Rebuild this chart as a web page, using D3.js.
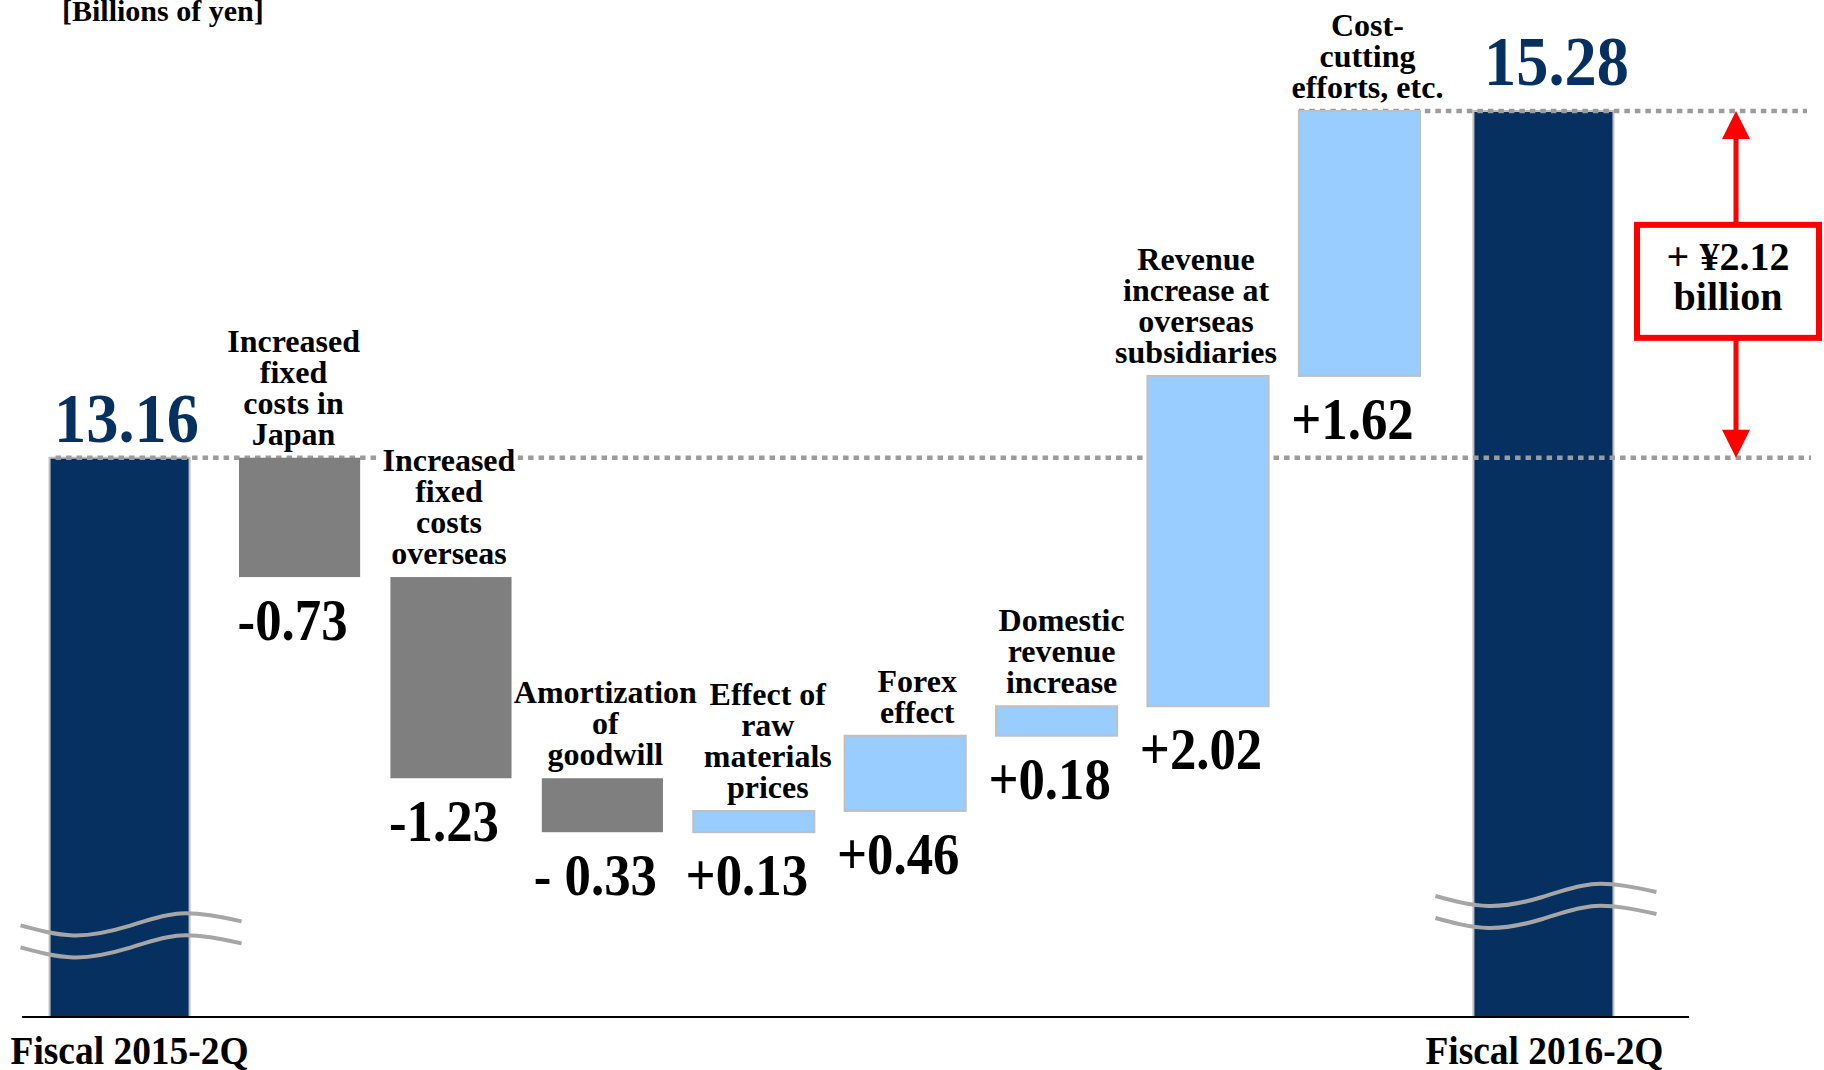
<!DOCTYPE html>
<html>
<head>
<meta charset="utf-8">
<script src="https://cdn.jsdelivr.net/npm/d3@7"></script>
<style>
  html, body { margin: 0; padding: 0; background: #ffffff; }
  svg { display: block; font-family: "Liberation Serif", "Times New Roman", serif; font-weight: bold; }
</style>
</head>
<body>
<svg id="chart" width="1824" height="1070"></svg>
<script>
// Operating income bridge: fiscal 2015-2Q to fiscal 2016-2Q, billions of yen
const totalNames = ["Fiscal 2015-2Q", "Fiscal 2016-2Q"];
const totalValues = [13.16, 15.28];
const totalLabels = ["13.16", "15.28"];

const stepNames = [
  "Increased\nfixed\ncosts in\nJapan",
  "Increased\nfixed\ncosts\noverseas",
  "Amortization\nof\ngoodwill",
  "Effect of\nraw\nmaterials\nprices",
  "Forex\neffect",
  "Domestic\nrevenue\nincrease",
  "Revenue\nincrease at\noverseas\nsubsidiaries",
  "Cost-\ncutting\nefforts, etc."
];
const stepValues = [-0.73, -1.23, -0.33, 0.13, 0.46, 0.18, 2.02, 1.62];
const stepLabels = ["-0.73", "-1.23", "- 0.33", "+0.13", "+0.46", "+0.18", "+2.02", "+1.62"];

const unitLabel = "[Billions of yen]";
const changeLabel = ["+ \u00A52.12", "billion"];

// the value axis is broken: total bars are cut off at this level
const axisFloor = 9.74;
// where the wavy break marks cross each total bar
const breakLevels = [10.3, 10.48];

// ---- layout ----
const baseY = 1017;
const navy = "#06305f", grey = "#7f7f7f", sky = "#99ccff", edge = "#c0c0c0",
      dotted = "#9c9c9c", red = "#ff0000";

const svg = d3.select("#chart");

const y = d3.scaleLinear().domain([axisFloor, totalValues[1]]).range([baseY, 111]);
const x = d3.scaleBand().domain(stepNames).range([239, 1420]).paddingInner(0.2).paddingOuter(0);
const bw = x.bandwidth();
const totalW = 140;
const totalGap = [180, 184];        // distance from the outer step bars to the total bars
const totalLabelLift = [16, 26];    // value label baseline above each total bar
const totalLabelShift = [7, 13];
const totalNameShift = [10, 1];
const waveShift = [6, -3];
const catShift = [-6, -2, 3, 14, 12, 5, -12, 8];   // horizontal nudge of each category label

// running waterfall
let run = totalValues[0];
const steps = stepValues.map((v, i) => {
  const start = run;
  run = Math.round((run + v) * 100) / 100;
  return { i, name: stepNames[i], value: v, start, end: run, label: stepLabels[i] };
});

const totals = totalValues.map((v, i) => ({
  i, name: totalNames[i], value: v, label: totalLabels[i],
  cx: i === 0 ? x(stepNames[0]) + bw / 2 - totalGap[0]
              : x(stepNames[stepNames.length - 1]) + bw / 2 + totalGap[1]
}));

// ---- total bars ----
svg.append("g").selectAll("rect").data(totals).join("rect")
  .attr("x", d => d.cx - totalW / 2)
  .attr("y", d => y(d.value))
  .attr("width", totalW)
  .attr("height", d => baseY - y(d.value))
  .attr("fill", navy)
  .attr("stroke", edge)
  .attr("stroke-width", 2);

// ---- dotted reference levels ----
const refG = svg.append("g")
  .attr("stroke", dotted).attr("stroke-width", 4.5).attr("stroke-dasharray", "5.5,5");
refG.append("line")
  .attr("x1", totals[0].cx - totalW / 2 + 6).attr("x2", 1811)
  .attr("y1", y(totalValues[0])).attr("y2", y(totalValues[0]));
refG.append("line")
  .attr("x1", x(stepNames[stepNames.length - 1])).attr("x2", 1807)
  .attr("y1", y(totalValues[1])).attr("y2", y(totalValues[1]));

// ---- step category labels: white backing, then bars, then text ----
const lineH = 31;
const bgG = svg.append("g");
const barG = svg.append("g");
const catG = svg.append("g");

const labelGroups = catG.selectAll("g").data(steps).join("g")
  .attr("transform", d => {
    const lines = d.name.split("\n").length;
    const lastBase = y(Math.max(d.start, d.end)) - 13;
    return `translate(${x(d.name) + bw / 2 + catShift[d.i]},${lastBase - (lines - 1) * lineH})`;
  });
labelGroups.each(function (d) {
  const g = d3.select(this);
  const t = g.append("text")
    .attr("text-anchor", "middle")
    .attr("font-size", 32)
    .attr("fill", "#000");
  d.name.split("\n").forEach((ln, k) => {
    t.append("tspan").attr("x", 0).attr("y", k * lineH).text(ln);
  });
  const bb = t.node().getBBox();
  bgG.append("rect")
    .attr("transform", g.attr("transform"))
    .attr("x", bb.x - 2).attr("y", bb.y + 5)
    .attr("width", bb.width + 4).attr("height", bb.height - 8)
    .attr("fill", "#fff");
});

barG.selectAll("rect").data(steps).join("rect")
  .attr("x", d => x(d.name))
  .attr("y", d => y(Math.max(d.start, d.end)))
  .attr("width", bw)
  .attr("height", d => Math.abs(y(d.start) - y(d.end)))
  .attr("fill", d => d.value < 0 ? grey : sky)
  .attr("stroke", d => d.value < 0 ? "none" : edge)
  .attr("stroke-width", 2);

// ---- step value labels below each bar ----
svg.append("g").selectAll("text").data(steps).join("text")
  .attr("transform", d => `translate(${x(d.name) + bw / 2 - 7},${y(Math.min(d.start, d.end)) + 63}) scale(0.88,1)`)
  .attr("text-anchor", "middle")
  .attr("font-size", 60)
  .attr("fill", "#000")
  .text(d => d.label);

// ---- total value labels ----
svg.append("g").selectAll("text").data(totals).join("text")
  .attr("transform", d => `translate(${d.cx + totalLabelShift[d.i]},${y(d.value) - totalLabelLift[d.i]}) scale(0.92,1)`)
  .attr("text-anchor", "middle")
  .attr("font-size", 70)
  .attr("fill", navy)
  .text(d => d.label);

// ---- break marks on the total bars ----
const waveX = [-105, -52, 2, 55, 116];
const waveDY = [0, 10, 1, -12, -4];
const wave = d3.line().curve(d3.curveNatural);
const breakG = svg.append("g")
  .attr("fill", "none").attr("stroke", "#a6a6a6").attr("stroke-width", 4);
totals.forEach(d => {
  [0, 22].forEach(off => {
    const pts = waveX.map((wx, k) => [d.cx + waveShift[d.i] + wx, y(breakLevels[d.i]) + waveDY[k] + off]);
    breakG.append("path").attr("d", wave(pts));
  });
});

// ---- baseline ----
svg.append("line")
  .attr("x1", 22).attr("x2", 1689)
  .attr("y1", baseY).attr("y2", baseY)
  .attr("stroke", "#000").attr("stroke-width", 2);

// ---- period names under the axis ----
svg.append("g").selectAll("text").data(totals).join("text")
  .attr("transform", d => `translate(${d.cx + totalNameShift[d.i]},1064) scale(0.96,1)`)
  .attr("text-anchor", "middle")
  .attr("font-size", 39)
  .attr("fill", "#000")
  .text(d => d.name);

// ---- unit label ----
svg.append("text")
  .attr("x", 62).attr("y", 21)
  .attr("font-size", 30)
  .attr("fill", "#000")
  .text(unitLabel);

// ---- change arrow with callout ----
const ax = 1736;
const yTop = y(totalValues[1]), yBot = y(totalValues[0]);
const headH = 28, headW = 28;
const arrowG = svg.append("g");
arrowG.append("line")
  .attr("x1", ax).attr("x2", ax)
  .attr("y1", yTop + headH - 2).attr("y2", yBot - headH + 2)
  .attr("stroke", red).attr("stroke-width", 5);
arrowG.append("path")
  .attr("d", `M${ax},${yTop}L${ax - headW / 2},${yTop + headH}L${ax + headW / 2},${yTop + headH}Z`)
  .attr("fill", red);
arrowG.append("path")
  .attr("d", `M${ax},${yBot}L${ax - headW / 2},${yBot - headH}L${ax + headW / 2},${yBot - headH}Z`)
  .attr("fill", red);

const boxW = 182, boxH = 113;
const boxCx = ax - 8, boxCy = (yTop + yBot) / 2 - 3;
arrowG.append("rect")
  .attr("x", boxCx - boxW / 2).attr("y", boxCy - boxH / 2)
  .attr("width", boxW).attr("height", boxH)
  .attr("fill", "#fff").attr("stroke", red).attr("stroke-width", 6);
arrowG.append("text")
  .attr("x", boxCx).attr("y", boxCy - 11)
  .attr("text-anchor", "middle").attr("font-size", 40).attr("fill", "#000")
  .text(changeLabel[0]);
arrowG.append("text")
  .attr("x", boxCx).attr("y", boxCy + 29)
  .attr("text-anchor", "middle").attr("font-size", 40).attr("fill", "#000")
  .text(changeLabel[1]);
</script>
</body>
</html>
